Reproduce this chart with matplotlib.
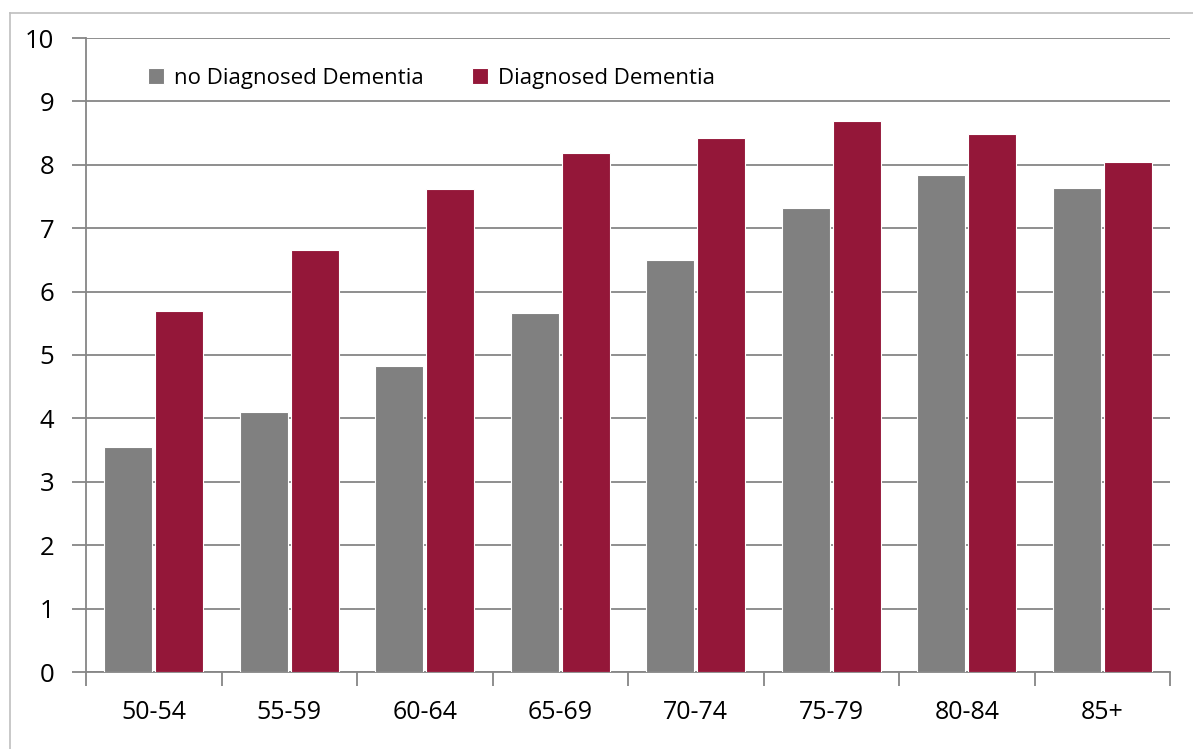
import numpy as np
import matplotlib
matplotlib.use("Agg")
import matplotlib.pyplot as plt
from matplotlib.lines import Line2D

plt.rcParams['font.family'] = ['Open Sans', 'DejaVu Sans']

age_groups = ["50-54", "55-59", "60-64", "65-69", "70-74", "75-79", "80-84", "85+"]
no_dementia = [3.55, 4.10, 4.82, 5.67, 6.50, 7.32, 7.84, 7.64]
dementia = [5.69, 6.65, 7.62, 8.18, 8.43, 8.69, 8.48, 8.04]
series_names = ["no Diagnosed Dementia", "Diagnosed Dementia"]

grey = "#808080"
maroon = "#941739"
axis_grey = "#868686"

fig = plt.figure(figsize=(11.93, 7.49), dpi=100)
ax = fig.add_axes([86 / 1193, 1 - 672 / 749, (1170 - 86) / 1193, (672 - 38) / 749])

x = np.arange(len(age_groups))
w = 0.355
ax.bar(x - w / 2 - 0.012, no_dementia, w, color=grey, edgecolor="white", linewidth=0.8,
       label=series_names[0], zorder=3)
ax.bar(x + w / 2 + 0.012, dementia, w, color=maroon, edgecolor="white", linewidth=0.8,
       label=series_names[1], zorder=3)

ax.set_xlim(-0.5, len(age_groups) - 0.5)
ax.set_ylim(0, 10)
ax.set_yticks(range(0, 11))
ax.yaxis.grid(True, color=axis_grey, linewidth=1.3, zorder=0)

# category labels centred, ticks on the boundaries
ax.set_xticks(x)
ax.set_xticklabels(age_groups, fontsize=18)
ax.set_xticks(np.arange(-0.5, len(age_groups)), minor=True)
ax.tick_params(axis="x", which="major", length=0, pad=20)
ax.tick_params(axis="x", which="minor", length=10, width=1.3, color=axis_grey, direction="out")
ax.tick_params(axis="y", length=10, width=1.3, color=axis_grey, labelsize=18.5, pad=13)

for s in ["top", "right"]:
    ax.spines[s].set_visible(False)
for s in ["left", "bottom"]:
    ax.spines[s].set_color(axis_grey)
    ax.spines[s].set_linewidth(1.3)

ax.legend(loc="upper left", bbox_to_anchor=(0.039, 0.985), ncol=2, frameon=False,
          fontsize=16.0, handlelength=0.7, handleheight=0.7, handletextpad=0.45,
          columnspacing=2.2)

# outer chart frame
fig.add_artist(Line2D([10 / 1193, 10 / 1193], [0, 1 - 13 / 749], color="#bfbfbf", linewidth=1.2))
fig.add_artist(Line2D([10 / 1193, 1], [1 - 13 / 749, 1 - 13 / 749], color="#bfbfbf", linewidth=1.2))

fig.savefig("out.png", dpi=100)
